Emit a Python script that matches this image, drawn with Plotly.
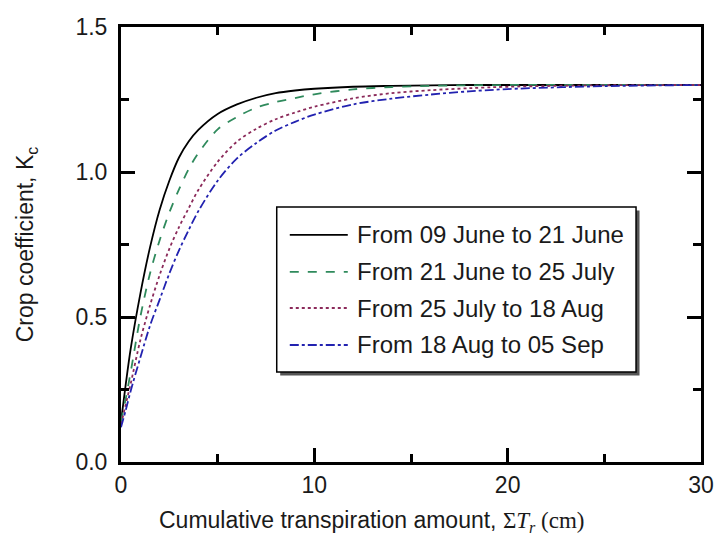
import plotly.graph_objects as go

# Cumulative transpiration amount (cm)
x_vals = [0, 0.25, 0.5, 1, 1.5, 2, 2.5, 3, 3.5, 4, 5, 6, 7, 8, 9, 10, 12, 14, 16, 18, 20, 25, 30]

# Crop coefficient Kc for each period
kc_jun09_jun21 = [0.14, 0.27, 0.39, 0.58, 0.74, 0.87, 0.97, 1.05, 1.105, 1.145, 1.20, 1.233, 1.256, 1.272, 1.281, 1.287, 1.294, 1.297, 1.299, 1.30, 1.30, 1.30, 1.30]
kc_jun21_jul25 = [0.14, 0.22, 0.31, 0.50, 0.65, 0.765, 0.86, 0.94, 1.01, 1.065, 1.147, 1.19, 1.222, 1.241, 1.255, 1.268, 1.285, 1.293, 1.297, 1.299, 1.30, 1.30, 1.30]
kc_jul25_aug18 = [0.13, 0.20, 0.27, 0.42, 0.54, 0.645, 0.735, 0.81, 0.875, 0.938, 1.035, 1.105, 1.149, 1.182, 1.205, 1.225, 1.254, 1.272, 1.282, 1.289, 1.294, 1.299, 1.30]
kc_aug18_sep05 = [0.12, 0.18, 0.245, 0.36, 0.47, 0.56, 0.65, 0.73, 0.80, 0.865, 0.97, 1.047, 1.10, 1.143, 1.173, 1.198, 1.233, 1.253, 1.267, 1.278, 1.286, 1.296, 1.30]

series_names = ["From 09 June to 21 June", "From 21 June to 25 July",
                "From 25 July to 18 Aug", "From 18 Aug to 05 Sep"]
series_values = [kc_jun09_jun21, kc_jun21_jul25, kc_jul25_aug18, kc_aug18_sep05]

x_tick_vals = [0, 10, 20, 30]
x_tick_text = ["0", "10", "20", "30"]
x_minor_vals = [5, 15, 25]
y_tick_vals = [0.0, 0.5, 1.0, 1.5]
y_tick_text = ["0.0", "0.5", "1.0", "1.5"]
y_minor_vals = [0.25, 0.75, 1.25]

x_title = ('Cumulative transpiration amount, '
           '<span style="font-family:Liberation Serif, Times New Roman, serif">Σ<i>T<sub>r</sub></i> (cm)</span>')
y_title = "Crop coefficient, K<sub>c</sub>"

colors = ["#000000", "#2f8a5c", "#8b2a5a", "#2222b0"]
dashes = ["solid", "dash", "dot", "dashdot"]

FONT = "Liberation Sans, Arial, sans-serif"
TXT = "#1a1a1a"

fig = go.Figure()
for i, (name, vals) in enumerate(zip(series_names, series_values)):
    fig.add_trace(go.Scatter(
        x=x_vals, y=vals, mode="lines", name=name, showlegend=False,
        line=dict(color=colors[i], dash=dashes[i], width=1.8, shape="spline", smoothing=0.9),
    ))

axis_common = dict(
    showline=True, linecolor="black", linewidth=3, mirror="allticks",
    ticks="inside", tickcolor="black", tickwidth=2.5, ticklen=14,
    showgrid=False, zeroline=False, automargin=False, ticklabeloverflow="allow",
    tickfont=dict(family=FONT, size=23, color=TXT),
)

fig.update_xaxes(
    range=[0, 30], tickvals=x_tick_vals, ticktext=x_tick_text, ticklabelstandoff=0,
    minor=dict(tickvals=x_minor_vals, ticks="inside", ticklen=8, tickwidth=2.5, tickcolor="black"),
    **axis_common,
)
fig.update_yaxes(
    range=[0, 1.5], tickvals=y_tick_vals, ticktext=y_tick_text, ticklabelstandoff=6,
    minor=dict(tickvals=y_minor_vals, ticks="inside", ticklen=8, tickwidth=2.5, tickcolor="black"),
    title=dict(text=y_title, font=dict(family=FONT, size=23, color=TXT), standoff=36),
    **axis_common,
)

# Custom legend box (paper coordinates of the plot area)
L_X0, L_X1, L_Y0, L_Y1 = 0.2685, 0.888, 0.207, 0.586
row_y = [0.522, 0.437, 0.354, 0.269]
samp_x0, samp_x1, text_x = 0.291, 0.391, 0.403

shapes = [
    dict(type="rect", xref="paper", yref="paper", x0=L_X0 + 0.006, x1=L_X1 + 0.006,
         y0=L_Y0 - 0.008, y1=L_Y1 - 0.008, line=dict(width=0), fillcolor="#555555", layer="above"),
    dict(type="rect", xref="paper", yref="paper", x0=L_X0, x1=L_X1, y0=L_Y0, y1=L_Y1,
         line=dict(color="black", width=1.5), fillcolor="white", layer="above"),
]
annotations = []
for i, name in enumerate(series_names):
    shapes.append(dict(type="line", xref="paper", yref="paper", x0=samp_x0, x1=samp_x1,
                       y0=row_y[i], y1=row_y[i], layer="above",
                       line=dict(color=colors[i], dash=dashes[i], width=1.8)))
    annotations.append(dict(xref="paper", yref="paper", x=text_x, y=row_y[i], text=name,
                            showarrow=False, xanchor="left", yanchor="middle",
                            font=dict(family=FONT, size=24, color=TXT)))

# x-axis title (placed slightly left of centre, as in the reference)
annotations.append(dict(xref="paper", yref="paper", x=0.432, y=0, yshift=-59,
                        text=x_title, showarrow=False, xanchor="center", yanchor="middle",
                        font=dict(family=FONT, size=23, color=TXT)))

fig.update_layout(
    width=714, height=540,
    margin=dict(l=121, r=13, t=27, b=78),
    plot_bgcolor="white", paper_bgcolor="white",
    shapes=shapes, annotations=annotations,
)

fig.write_html("out.html")
